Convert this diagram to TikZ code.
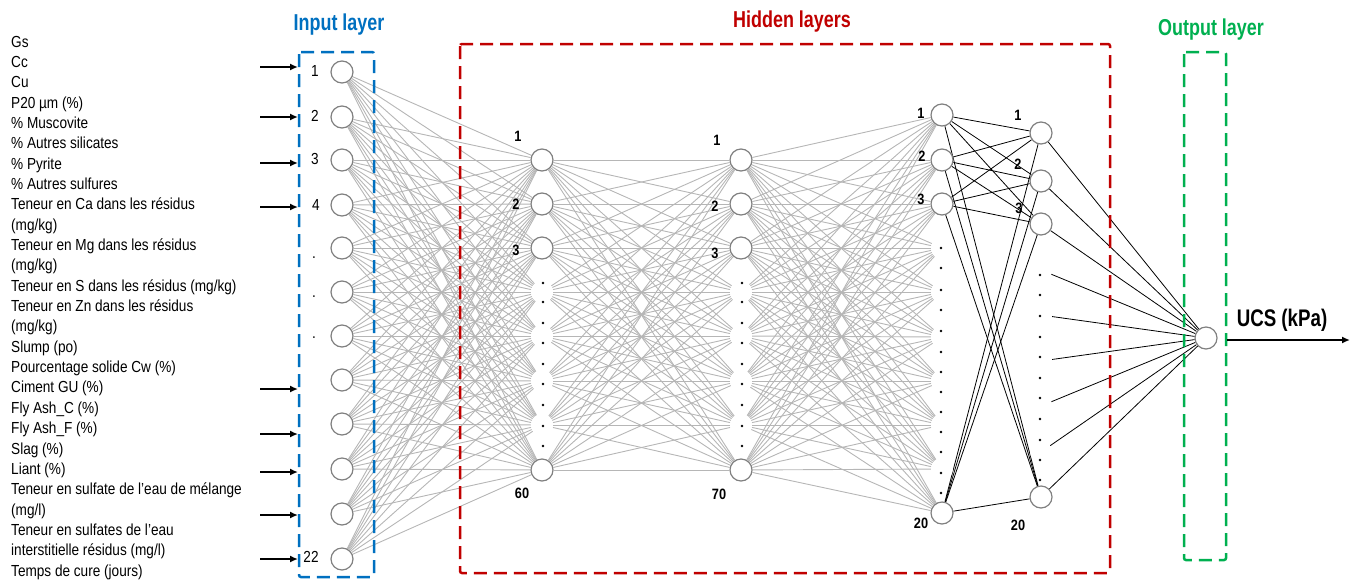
\documentclass[tikz,border=0pt]{standalone}
\usepackage{fontspec}
\setmainfont{Liberation Sans}[FakeStretch=0.85]
\newfontfamily\headfont{Liberation Sans}[FakeStretch=0.78]
\usepackage{tikz}
\usetikzlibrary{arrows.meta,backgrounds}
\definecolor{ann_blue}{RGB}{0,112,192}
\definecolor{ann_red}{RGB}{192,0,0}
\definecolor{ann_green}{RGB}{0,176,80}
\definecolor{ann_gray}{RGB}{128,128,128}
\definecolor{ann_link}{RGB}{182,182,182}

\begin{document}
\begin{tikzpicture}[
  x=1pt,y=-1pt,
  neuron/.style={circle,draw=ann_gray,fill=white,line width=1.2pt,
                 minimum size=22pt,inner sep=0pt},
  ghost/.style={circle,fill=white,minimum size=22pt,inner sep=0pt},
  link/.style={draw=ann_link,line width=0.9pt},
  wire/.style={draw=black,line width=0.8pt},
  arrow/.style={-{Latex[length=8pt,width=7pt]},line width=2.2pt},
  layerbox/.style={dash pattern=on 13pt off 7pt,line width=2.5pt,rounded corners=2pt},
  varname/.style={anchor=base west,inner sep=0pt,font=\fontsize{16}{16}\selectfont},
  innum/.style={inner sep=0pt,font=\fontsize{16}{16}\selectfont},
  num/.style={inner sep=0pt,font=\fontsize{15}{15}\selectfont\bfseries},
  title/.style={inner sep=0pt,font=\headfont\fontsize{23}{23}\selectfont\bfseries}
]
\useasboundingbox (0,0) rectangle (1356,581);

% input variables
\foreach \t [count=\k] in {Gs,Cc,Cu,P20 µm (\%),\% Muscovite,\% Autres silicates,
  \% Pyrite,\% Autres sulfures,Teneur en Ca dans les résidus,(mg/kg),
  Teneur en Mg dans les résidus,(mg/kg),Teneur en S dans les résidus (mg/kg),
  Teneur en Zn dans les résidus,(mg/kg),Slump (po),Pourcentage solide Cw (\%),
  Ciment GU (\%),Fly Ash\_C (\%),Fly Ash\_F (\%),Slag (\%),Liant (\%),
  Teneur en sulfate de l'eau de mélange,(mg/l),Teneur en sulfates de l'eau,
  interstitielle résidus (mg/l),Temps de cure (jours)}
  \node[varname] (v\k) at (11,{47+20.35*(\k-1)}) {\t};

% input arrows
\foreach \y [count=\k] in {67,117,163,207,389,434,472,515,559}{
  \coordinate (s\k) at (260,\y);
  \coordinate (t\k) at (298,\y);
  \draw[arrow] (s\k) -- (t\k);
}

% layers
\foreach \y [count=\i] in {72,117,160,205,248,292,336,380,424,469,514,559}
  \node[neuron] (in\i) at (342,\y) {};
\foreach \y/\s [count=\i] in {160/neuron,204/neuron,248/neuron,292/ghost,
  336/ghost,381/ghost,425/ghost,470/neuron}{
  \node[\s] (ha\i) at (542,\y) {};
  \node[\s] (hb\i) at (741,\y) {};
}
\foreach \y/\s [count=\i] in {115/neuron,160/neuron,204/neuron,248/ghost,292/ghost,
  337/ghost,381/ghost,425/ghost,469/ghost,513/neuron}
  \node[\s] (hc\i) at (942,\y) {};
\foreach \y/\s [count=\i] in {133/neuron,181/neuron,224/neuron,270/ghost,315/ghost,
  361/ghost,406/ghost,452/ghost,497/neuron}
  \node[\s] (hd\i) at (1041,\y) {};
\node[neuron] (out) at (1206,338) {};

% connections
\begin{scope}[on background layer]
  \foreach \i in {1,...,12}
    \foreach \j in {1,...,8}
      \draw[link] (in\i) -- (ha\j);
  \foreach \i in {1,...,8}
    \foreach \j in {1,...,8}
      \draw[link] (ha\i) -- (hb\j);
  \foreach \i in {1,...,8}
    \foreach \j in {1,...,10}
      \draw[link] (hb\i) -- (hc\j);
  \foreach \i in {1,2,3,10}
    \foreach \j in {1,2,3,9}
      \draw[wire] (hc\i) -- (hd\j);
  \foreach \j in {1,...,9}
    \draw[wire] (hd\j) -- (out);
\end{scope}

% dots
\foreach \y in {283,302,323,343,364,384,405,426,446}{
  \fill (543,\y) circle (1.4pt);
  \fill (742,\y) circle (1.4pt);
}
\foreach \y in {248,268,290,310,331,352,372,392,412,432,452,473,493}
  \fill (941,\y) circle (1.4pt);
\foreach \y in {275,295,316,337,357,378,398,419,440,460,480}
  \fill (1040,\y) circle (1.4pt);

% neuron numbers
\foreach \t/\x/\y [count=\k] in {1/315/71,2/315/116,3/315/159,4/316/205,22/311/557}
  \node[innum] (ni\k) at (\x,\y) {\t};
\foreach \y [count=\k] in {258,297,338}
  \node[innum,anchor=base] (nd\k) at (314,\y) {.};
\foreach \t/\x/\y [count=\k] in {1/518/136,2/516/204,3/516/250,60/522/493,
  1/717/140,2/715/206,3/715/253,70/719/494,
  1/921/113,2/922/156,3/921/199,20/921/523,
  1/1018/115,2/1018/164,3/1019/208,20/1018/525}
  \node[num] (nh\k) at (\x,\y) {\t};

% layer boxes
\draw[layerbox,draw=ann_blue] (299,52) rectangle (374,577);
\draw[layerbox,draw=ann_red] (460,44) rectangle (1110,573);
\draw[layerbox,draw=ann_green] (1184,52) rectangle (1226,560);
\node[title,text=ann_blue] (tin) at (339,25) {Input layer};
\node[title,text=ann_red] (thid) at (792,22) {Hidden layers};
\node[title,text=ann_green] (tout) at (1211,30) {Output layer};

% output
\coordinate (oa) at (1227,340);
\coordinate (ob) at (1350,340);
\draw[arrow] (oa) -- (ob);
\node[title,font=\headfont\fontsize{24}{24}\selectfont\bfseries] (ucs) at (1282,320) {UCS (kPa)};
\end{tikzpicture}
\end{document}
